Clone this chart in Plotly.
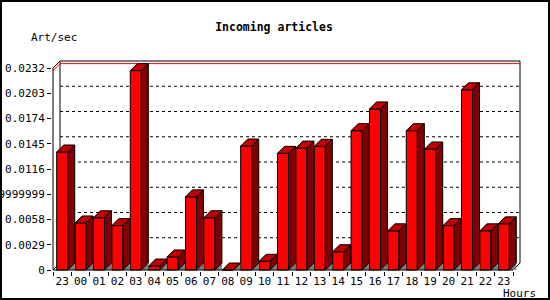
import plotly.graph_objects as go

# ---------------- data ----------------
hours = ["23", "00", "01", "02", "03", "04", "05", "06", "07", "08", "09", "10",
         "11", "12", "13", "14", "15", "16", "17", "18", "19", "20", "21", "22", "23"]
art_per_sec = [0.01355, 0.0054, 0.0060, 0.0051, 0.0229, 0.00046, 0.0015, 0.0084,
               0.0060, 0.0, 0.01424, 0.0010, 0.0134, 0.0140, 0.0142, 0.0021,
               0.0160, 0.0185, 0.0045, 0.0160, 0.0139, 0.0051, 0.0207, 0.0045, 0.0053]
ytick_vals = [0, 0.0029, 0.0058, 0.0087, 0.0116, 0.0145, 0.0174, 0.0203, 0.0232]
ytick_text = ["0", "0.0029", "0.0058", "0.0086999999999999", "0.0116", "0.0145",
              "0.0174", "0.0203", "0.0232"]
title_text = "Incoming articles"
y_title = "Art/sec"
x_title = "Hours"

# ---------------- geometry (pixels -> data units) ----------------
W, H = 550, 300
n = len(hours)
front_w_px = 460.0          # width of the front x axis
front_h_px = 202.0          # height of the front y axis
depth_x_px, depth_y_px = 7.0, 7.0
pad = 1.0                   # px padding so frame lines are not clipped
ymax_front = ytick_vals[-1]

xpu = front_w_px / n                 # px per category
ypu = front_h_px / ymax_front        # px per value unit
dxu = depth_x_px / xpu
dyu = depth_y_px / ypu

x_lo, x_front_hi = -0.5, n - 0.5
x_hi = x_front_hi + dxu
y_hi = ymax_front + dyu

L, T = 53 - pad, 61 - pad
plot_w = front_w_px + depth_x_px + 2 * pad
plot_h = front_h_px + depth_y_px + 2 * pad
R = W - L - plot_w
B = H - T - plot_h

x_range = [x_lo - pad / xpu, x_hi + pad / xpu]
y_range = [0 - pad / ypu, y_hi + pad / ypu]

hw = 0.3   # half width of bar front face (category units)

RED, SIDE, TOP, FLOOR = "#FF0000", "#800000", "#C00000", "#808080"
FONT = "DejaVu Sans Mono"

idx = list(range(n))

# side faces, top faces, floor triangles
sx, sy, tx, ty, fx, fy = [], [], [], [], [], []
for i, v in zip(idx, art_per_sec):
    xr = i + hw
    xl = i - hw
    sx += [xr, xr + dxu, xr + dxu, xr, xr, None]
    sy += [0, dyu, v + dyu, v, 0, None]
    tx += [xl, xl + dxu, xr + dxu, xr, xl, None]
    ty += [v, v + dyu, v + dyu, v, v, None]
    fx += [xr, xr + dxu, xr + dxu, xr, None]
    fy += [0, dyu, 0, 0, None]

fig = go.Figure()
fig.add_trace(go.Bar(x=idx, y=art_per_sec, width=2 * hw,
                     marker=dict(color=RED, line=dict(color="black", width=1)),
                     hoverinfo="skip"))
fig.add_trace(go.Scatter(x=fx, y=fy, mode="lines", fill="toself", fillcolor=FLOOR,
                         line=dict(width=0, color=FLOOR), hoverinfo="skip"))
fig.add_trace(go.Scatter(x=sx, y=sy, mode="lines", fill="toself", fillcolor=SIDE,
                         line=dict(width=1, color="black"), hoverinfo="skip"))
fig.add_trace(go.Scatter(x=tx, y=ty, mode="lines", fill="toself", fillcolor=TOP,
                         line=dict(width=1, color="black"), hoverinfo="skip"))

shapes = []
# back-plane dotted gridlines
for t in ytick_vals[1:-1]:
    shapes.append(dict(type="line", xref="x", yref="y", layer="below",
                       x0=x_lo + dxu, x1=x_hi, y0=t + dyu, y1=t + dyu,
                       line=dict(color="black", width=1, dash="3px,3px")))


def seg(x0, y0, x1, y1, color="black", layer="below"):
    shapes.append(dict(type="line", xref="x", yref="y", layer=layer,
                       x0=x0, y0=y0, x1=x1, y1=y1, line=dict(color=color, width=1)))


# back frame
seg(x_lo + dxu, y_hi, x_hi, y_hi)
seg(x_lo + dxu, dyu, x_lo + dxu, y_hi)
seg(x_hi, dyu, x_hi, y_hi)
seg(x_lo, ymax_front, x_lo + dxu, y_hi)
seg(x_lo, 0, x_lo + dxu, dyu)
seg(x_front_hi, 0, x_hi, dyu)
# max line (red)
vmax = max(art_per_sec)
seg(x_lo, vmax, x_lo + dxu, vmax + dyu, color="#FF0000")
seg(x_lo + dxu, vmax + dyu, x_hi, vmax + dyu, color="#FF0000")
# front axes
seg(x_lo, 0, x_lo, ymax_front, layer="above")
seg(x_lo, 0, x_front_hi, 0, layer="above")


# outer image border (paper coordinates)
def px2paper_x(px):
    return (px - L) / plot_w


def px2paper_y(py):
    return (H - B - py) / plot_h


shapes.append(dict(type="rect", xref="paper", yref="paper", layer="above",
                   x0=px2paper_x(1), x1=px2paper_x(549),
                   y0=px2paper_y(299), y1=px2paper_y(1),
                   line=dict(color="black", width=2), fillcolor="rgba(0,0,0,0)"))

annotations = [
    dict(text=y_title, xref="paper", yref="paper", x=px2paper_x(29), y=px2paper_y(37.5),
         xanchor="left", yanchor="middle", showarrow=False,
         font=dict(family=FONT, size=11, color="black")),
    dict(text=x_title, xref="paper", yref="paper", x=px2paper_x(519), y=px2paper_y(293),
         xanchor="center", yanchor="middle", showarrow=False,
         font=dict(family=FONT, size=11, color="black")),
]

fig.update_layout(
    width=W, height=H,
    margin=dict(l=L, r=R, t=T, b=B, pad=0),
    paper_bgcolor="white", plot_bgcolor="white",
    showlegend=False,
    title=dict(text=title_text, x=274 / W, xref="container", xanchor="center",
               y=1 - 27 / H, yref="container", yanchor="middle",
               font=dict(family=FONT, size=11.5, color="black", weight="bold")),
    shapes=shapes,
    annotations=annotations,
    xaxis=dict(range=x_range, tickmode="array", tickvals=idx, ticktext=hours,
               ticks="", showgrid=False, zeroline=False, showline=False,
               ticklabelstandoff=2,
               minor=dict(ticks="outside", tick0=-0.5, dtick=1, ticklen=4,
                          tickcolor="black", tickwidth=1, showgrid=False),
               tickfont=dict(family=FONT, size=11, color="black"),
               automargin=False, fixedrange=True),
    yaxis=dict(range=y_range, tickmode="array", tickvals=ytick_vals, ticktext=ytick_text,
               ticks="outside", ticklen=4, tickcolor="black", tickwidth=1,
               showgrid=False, zeroline=False, showline=False,
               tickfont=dict(family=FONT, size=11, color="black"),
               automargin=False, fixedrange=True),
)

fig.write_html("out.html")
